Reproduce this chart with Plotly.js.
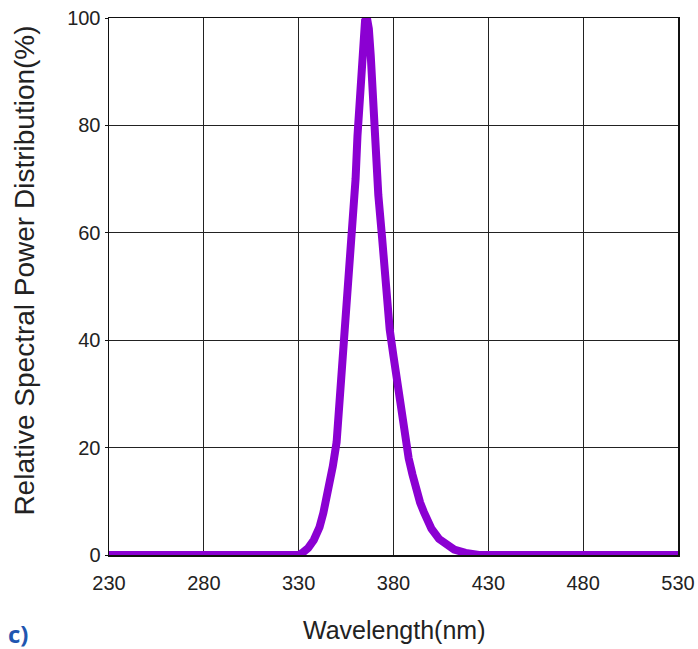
<!DOCTYPE html>
<html>
<head>
<meta charset="utf-8">
<script src="https://cdn.plot.ly/plotly-3.0.1.min.js"></script>
<style>html,body{margin:0;padding:0;background:#fff;}#chart{width:698px;height:649px;}</style>
</head>
<body>
<div id="chart"></div>
<script>
// Wavelength (nm) and relative spectral power (%)
var wavelength = [230, 280, 330, 332, 335, 338, 341, 343, 346, 348, 350, 352, 354, 356, 358, 360, 361, 362, 363, 364, 365, 366, 367, 368, 369, 370, 371, 372, 374, 376, 378, 380, 382, 384, 386, 388, 390, 392, 394, 396, 398, 400, 404, 408, 412, 418, 425, 480, 530];
var power      = [0,   0,   0,   0.4, 1.3, 2.8, 5.2, 7.8, 12.5,16.5,21,  30,  40,  50,  59,  70,  78,  84,  90,  96,  99.5,100, 98,  93,  86,  79,  72,  67,  59,  50,  42,  37,  32,  26,  22,  18,  15,  12,  9.8, 8,   6.3, 4.9, 3,   1.8, 1,   0.4, 0,   0,   0];
var xTicks = [230, 280, 330, 380, 430, 480, 530];
var yTicks = [0, 20, 40, 60, 80, 100];
var xTitle = "Wavelength(nm)";
var yTitle = "Relative Spectral Power Distribution(%)";
var panelLabel = "c)";

var tickFont = {family: "Liberation Sans, Arial, sans-serif", size: 20, color: "#222"};

var trace = {
  x: wavelength,
  y: power,
  type: "scatter",
  mode: "lines",
  line: {color: "#8b00d2", width: 8, shape: "linear"},
  cliponaxis: false,
  hoverinfo: "skip"
};

var layout = {
  width: 698,
  height: 649,
  margin: {l: 109, r: 20, t: 18, b: 94},
  paper_bgcolor: "#fff",
  plot_bgcolor: "#fff",
  showlegend: false,
  xaxis: {
    range: [230, 530],
    tickvals: xTicks,
    ticktext: xTicks.map(String),
    showgrid: true, gridcolor: "#222", gridwidth: 1.3,
    zeroline: false,
    showline: true, linecolor: "#111", linewidth: 1.5, mirror: true,
    ticks: "", tickfont: tickFont, ticklabelstandoff: 9,
    layer: "below traces"
  },
  yaxis: {
    range: [0, 100],
    tickvals: yTicks,
    ticktext: yTicks.map(String),
    showgrid: true, gridcolor: "#222", gridwidth: 1.3,
    zeroline: false,
    showline: true, linecolor: "#111", linewidth: 1.5, mirror: true,
    ticks: "outside", ticklen: 3, tickcolor: "#111", tickfont: tickFont,
    layer: "below traces"
  },
  annotations: [
    {text: xTitle, xref: "paper", yref: "paper", x: 0.5, y: -0.14, xanchor: "center", yanchor: "middle",
     showarrow: false, font: {family: "Liberation Sans, Arial, sans-serif", size: 25, color: "#222"}},
    {text: yTitle, xref: "paper", yref: "paper", x: -0.149, y: 0.53, xanchor: "center", yanchor: "middle",
     textangle: -90, showarrow: false, font: {family: "Liberation Sans, Arial, sans-serif", size: 28, color: "#222"}},
    {text: "<b>" + panelLabel + "</b>", xref: "paper", yref: "paper", x: -0.16, y: -0.147, xanchor: "center", yanchor: "middle",
     showarrow: false, font: {family: "Open Sans, Liberation Sans, sans-serif", size: 24, color: "#1f56b0"}}
  ]
};

Plotly.newPlot("chart", [trace], layout, {displayModeBar: false, staticPlot: true});
</script>
</body>
</html>
